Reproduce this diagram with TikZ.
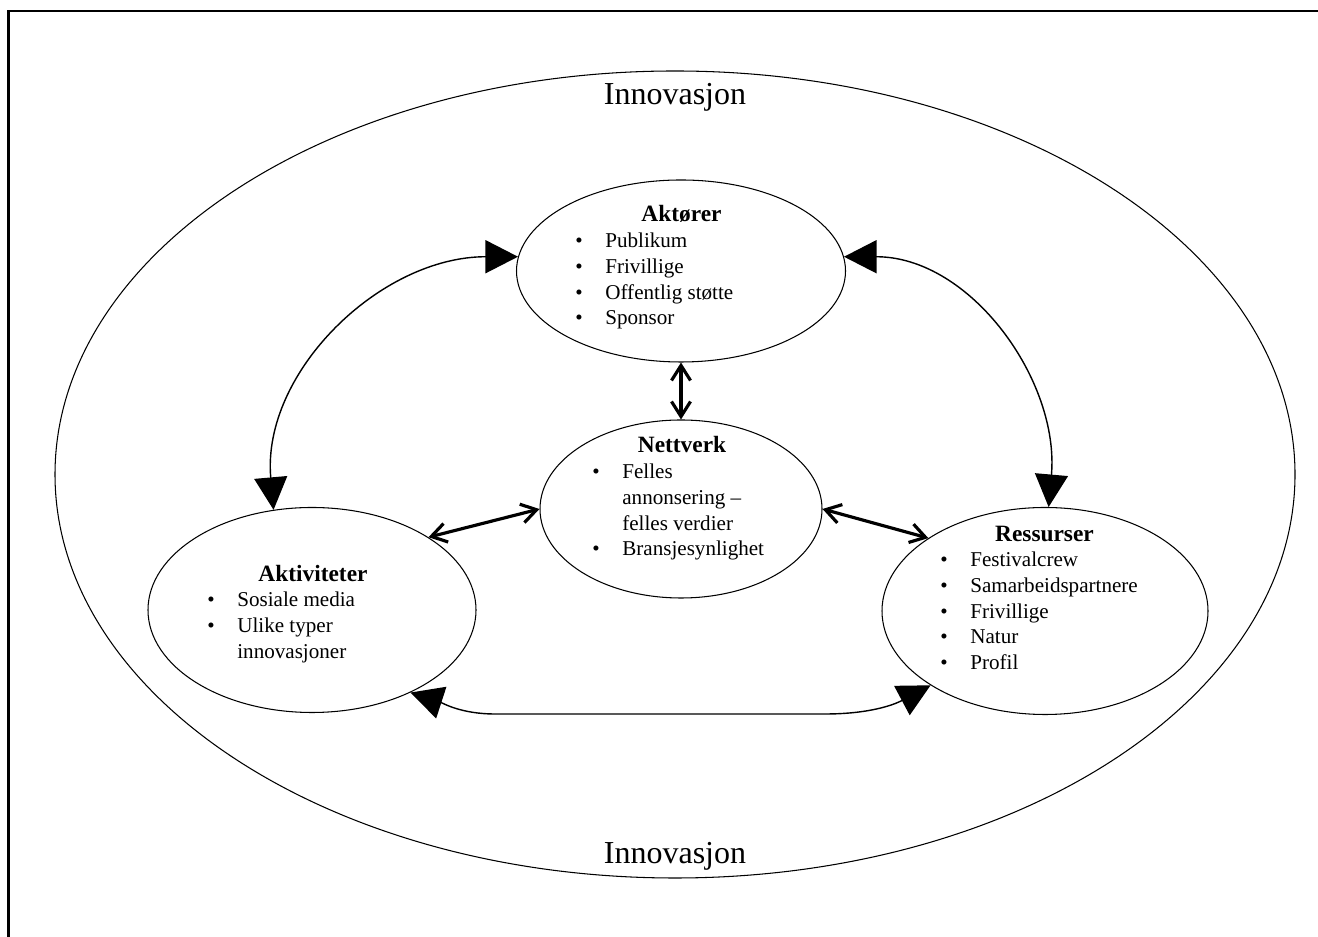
\documentclass[tikz,border=0pt]{standalone}
\usepackage{fontspec}
\setmainfont{Liberation Serif}
\usetikzlibrary{shapes.geometric, arrows.meta}
\newcommand{\itm}{\makebox[0.6cm][l]{\textbullet}}

\begin{document}
\begin{tikzpicture}[
    zone/.style={ellipse, draw, line width=0.6pt, inner sep=0pt},
    heading/.style={anchor=base, inner sep=0pt, font=\fontsize{13.3}{16}\selectfont\bfseries},
    itemlist/.style={anchor=base west, inner sep=0pt, font=\fontsize{12}{14.6}\selectfont},
    ringtext/.style={anchor=base, inner sep=0pt, font=\fontsize{18.2}{22}\selectfont},
    link/.style={{Triangle[length=0.65cm, width=0.66cm]}-{Triangle[length=0.65cm, width=0.66cm]}, line width=0.8pt},
    tie/.style={{Straight Barb[length=0.3cm, width=0.38cm]}-{Straight Barb[length=0.3cm, width=0.38cm]}, line width=1.8pt}
]
\useasboundingbox (0,0) rectangle (26.36,18.74);
\draw[line width=1.3pt] (0.17,0) -- (0.17,18.52) -- (26.36,18.52);

% outer ring
\node[zone, minimum width=24.8cm, minimum height=16.14cm] (innovasjon) at (13.5,9.25) {};
\node[ringtext] (innov-top) at (13.5,16.64) {Innovasjon};
\node[ringtext] (innov-bottom) at (13.5,1.46) {Innovasjon};

% the four fields
\node[zone, minimum width=6.58cm, minimum height=3.64cm] (aktorer) at (13.62,13.32) {};
\node[zone, minimum width=5.64cm, minimum height=3.56cm] (nettverk) at (13.62,8.56) {};
\node[zone, minimum width=6.56cm, minimum height=4.10cm] (aktiviteter) at (6.24,6.54) {};
\node[zone, minimum width=6.52cm, minimum height=4.14cm] (ressurser) at (20.9,6.52) {};

\node[heading] (aktorer-title) at (13.63,14.3) {Aktører};
\node[itemlist] (aktorer-list) at (11.5,13.78) {\begin{tabular}[t]{@{}l@{}}
  \itm Publikum\\ \itm Frivillige\\ \itm Offentlig støtte\\ \itm Sponsor
\end{tabular}};

\node[heading] (nettverk-title) at (13.64,9.68) {Nettverk};
\node[itemlist] (nettverk-list) at (11.84,9.16) {\begin{tabular}[t]{@{}l@{}}
  \itm Felles\\ \hspace{0.6cm}annonsering –\\ \hspace{0.6cm}felles verdier\\ \itm Bransjesynlighet
\end{tabular}};

\node[heading] (aktiviteter-title) at (6.26,7.1) {Aktiviteter};
\node[itemlist] (aktiviteter-list) at (4.14,6.6) {\begin{tabular}[t]{@{}l@{}}
  \itm Sosiale media\\ \itm Ulike typer\\ \hspace{0.6cm}innovasjoner
\end{tabular}};

\node[heading] (ressurser-title) at (20.89,7.9) {Ressurser};
\node[itemlist] (ressurser-list) at (18.8,7.4) {\begin{tabular}[t]{@{}l@{}}
  \itm Festivalcrew\\ \itm Samarbeidspartnere\\ \itm Frivillige\\ \itm Natur\\ \itm Profil
\end{tabular}};

% connectors
\coordinate (bottom-left) at (9.9,4.46);
\coordinate (bottom-right) at (16.5,4.46);
\draw[link] (aktiviteter.111) to[out=95, in=180] (aktorer.175);
\draw[link] (aktorer.5) to[out=0, in=85] (ressurser.88);
\draw[link] (aktiviteter.-40) to[out=-18, in=180] (bottom-left) -- (bottom-right) to[out=0, in=208] (ressurser.213);
\draw[tie] (aktorer.south) -- (nettverk.north);
\draw[tie] (aktiviteter.32) -- (nettverk.west);
\draw[tie] (nettverk.east) -- (ressurser.148);
\end{tikzpicture}
\end{document}
